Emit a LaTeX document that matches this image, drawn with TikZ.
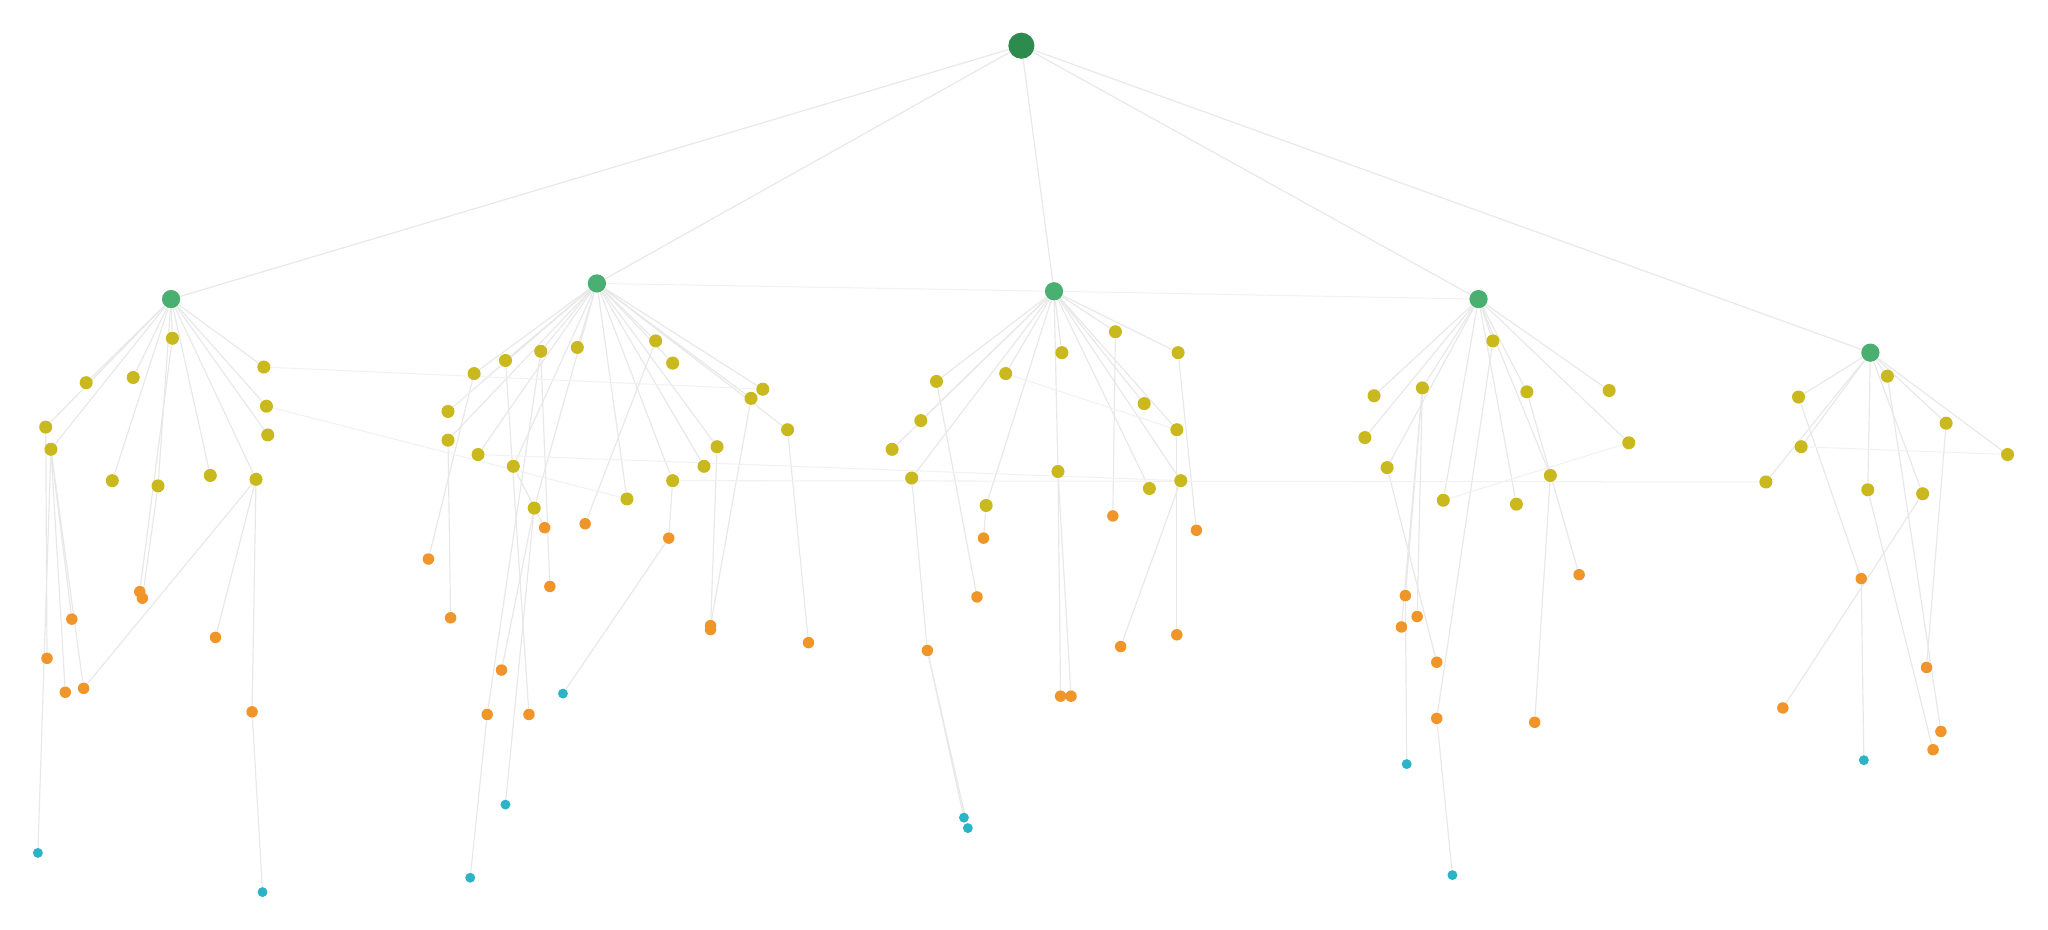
\documentclass[tikz,border=0pt]{standalone}
\usepackage[dvipsnames]{xcolor}
\usetikzlibrary{backgrounds}
\definecolor{rootgreen}{HTML}{2E8B4E}
\definecolor{midgreen}{HTML}{4CAF72}
\definecolor{leafyellow}{HTML}{C9B81E}
\definecolor{leaforange}{HTML}{F0952A}
\definecolor{leafteal}{HTML}{2BB3C6}
\definecolor{edgegray}{HTML}{E8E8E8}
\begin{document}
\begin{tikzpicture}[x=0.5pt,y=-0.5pt,
    dot/.style={circle,inner sep=0pt},
    rootdot/.style={dot,fill=rootgreen,minimum size=10pt},
    greendot/.style={dot,fill=midgreen,minimum size=7pt},
    yeldot/.style={dot,fill=leafyellow,minimum size=5pt},
    orgdot/.style={dot,fill=leaforange,minimum size=4.4pt},
    tealdot/.style={dot,fill=leafteal,minimum size=3.8pt},
    edge/.style={draw=edgegray,line width=0.45pt},
    faint/.style={draw=edgegray!60,line width=0.4pt}]
        \useasboundingbox (0,0) rectangle (1568,712);

        % Root and second level
        \node[rootdot] (r) at (782,35) {};
        \foreach \n/\x/\y in {g1/131/229,g2/457/217,g3/807/223,g4/1132/229,g5/1432/270}
            \node[greendot] (\n) at (\x,\y) {};

        % Third level
        \foreach \n/\x/\y in {y11/66/293,y12/102/289,y13/132/259,y14/202/281,y15/204/311,y16/205/333,
            y17/35/327,y18/39/344,y19/86/368,y110/121/372,y111/161/364,y112/196/367,
            y21/442/266,y22/363/286,y23/387/276,y24/414/269,y25/343/315,y26/343/337,y27/366/348,
            y28/393/357,y29/409/389,y210/480/382,y211/502/261,y212/515/278,y213/584/298,
            y214/575/305,y215/603/329,y216/549/342,y217/539/357,y218/515/368,
            y31/717/292,y32/705/322,y33/683/344,y34/698/366,y35/770/286,y36/813/270,y37/854/254,
            y38/902/270,y39/876/309,y310/901/329,y311/904/368,y312/880/374,y313/810/361,y314/755/387,
            y41/1052/303,y42/1045/335,y43/1062/358,y44/1089/297,y45/1143/261,y46/1169/300,
            y47/1232/299,y48/1247/339,y49/1187/364,y410/1161/386,y411/1105/383,
            y51/1377/304,y52/1445/288,y53/1490/324,y54/1537/348,y55/1379/342,y56/1352/369,
            y57/1430/375,y58/1472/378}
            \node[yeldot] (\n) at (\x,\y) {};

        % Fourth level
        \foreach \n/\x/\y in {o11/55/474,o12/107/453,o13/109/458,o14/36/504,o15/50/530,o16/64/527,
            o17/165/488,o18/193/545,
            o21/328/428,o22/345/473,o23/417/404,o24/421/449,o25/448/401,o26/512/412,o27/544/479,
            o28/544/482,o29/619/492,o210/384/513,o211/373/547,o212/405/547,
            o31/753/412,o32/748/457,o33/710/498,o34/812/533,o35/820/533,o36/852/395,o37/858/495,
            o38/901/486,o39/916/406,
            o41/1076/456,o42/1085/472,o43/1073/480,o44/1100/507,o45/1100/550,o46/1175/553,o47/1209/440,
            o51/1425/443,o52/1475/511,o53/1365/542,o54/1486/560,o55/1480/574}
            \node[orgdot] (\n) at (\x,\y) {};

        % Fifth level
        \foreach \n/\x/\y in {t11/29/653,t12/201/683,t21/431/531,t22/387/616,t23/360/672,
            t31/738/626,t32/741/634,t41/1077/585,t42/1112/670,t51/1427/582}
            \node[tealdot] (\n) at (\x,\y) {};

        \begin{pgfonlayer}{background}
        % Tree edges
        \foreach \a in {g1,g2,g3,g4,g5}
            \draw[edge] (r) -- (\a);
        \foreach \a in {y11,y12,y13,y14,y15,y16,y17,y18,y19,y110,y111,y112}
            \draw[edge] (g1) -- (\a);
        \foreach \a in {y21,y22,y23,y24,y25,y26,y27,y28,y29,y210,y211,y212,y213,y214,y215,y216,y217,y218}
            \draw[edge] (g2) -- (\a);
        \foreach \a in {y31,y32,y33,y34,y35,y36,y37,y38,y39,y310,y311,y312,y313,y314}
            \draw[edge] (g3) -- (\a);
        \foreach \a in {y41,y42,y43,y44,y45,y46,y47,y48,y49,y410,y411}
            \draw[edge] (g4) -- (\a);
        \foreach \a in {y51,y52,y53,y54,y55,y56,y57,y58}
            \draw[edge] (g5) -- (\a);
        \foreach \a/\b in {y18/o11,y18/o15,y18/o16,y18/t11,y17/o14,y13/o12,y110/o13,y112/o17,
            y112/o18,o18/t12,y112/o16,
            y22/o21,y26/o22,y28/o23,y23/o212,y24/o24,y211/o25,y218/o26,y214/o27,y216/o28,
            y215/o29,y29/o210,y24/o211,o211/t23,y29/t22,o26/t21,
            y314/o31,y31/o32,y34/o33,o33/t31,o33/t32,y313/o34,y313/o35,y37/o36,y311/o37,
            y310/o38,y38/o39,
            y44/o41,y44/o42,y44/o43,o41/t41,y43/o44,y45/o45,o45/t42,y49/o46,y46/o47,
            y51/o51,o51/t51,y52/o54,y57/o55,y53/o52,y58/o53}
            \draw[edge] (\a) -- (\b);
        % Cross links
        \foreach \a/\b in {g2/g3,g3/g4,y14/y213,y15/y210,y27/y311,y218/y56,y48/y411,
            y54/y55,y35/y310,y25/y23}
            \draw[faint] (\a) -- (\b);
        \end{pgfonlayer}
    \end{tikzpicture}
\end{document}
